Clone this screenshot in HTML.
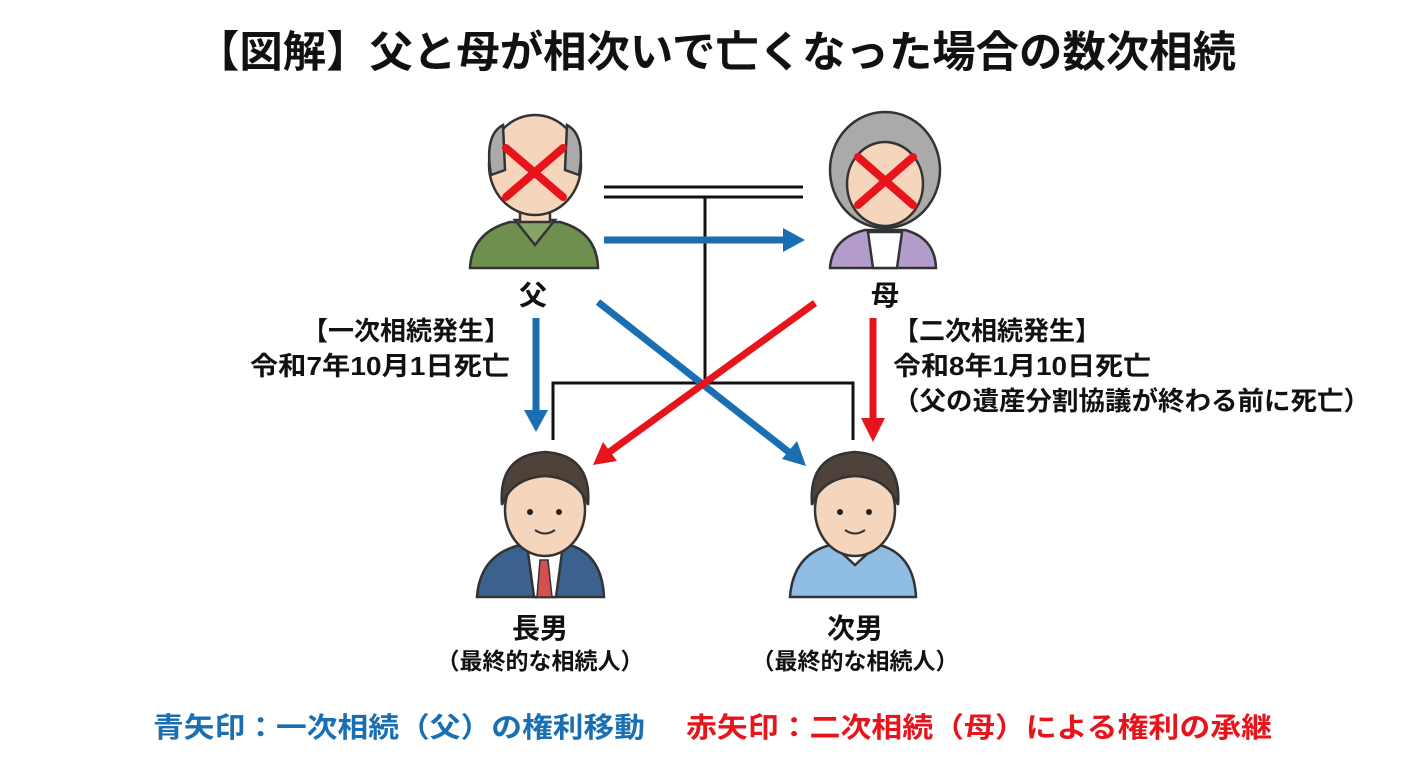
<!DOCTYPE html>
<html><head><meta charset="utf-8"><style>
html,body{margin:0;padding:0;background:#fff}
svg{display:block}
text{font-family:"Liberation Sans","Noto Sans CJK JP",sans-serif;font-weight:bold}
</style></head><body>
<svg width="1408" height="768" viewBox="0 0 1408 768" xmlns="http://www.w3.org/2000/svg">
<rect width="1408" height="768" fill="#fff"/>
<text x="196" y="67" font-size="43" textLength="1040" lengthAdjust="spacingAndGlyphs" fill="#111">【図解】父と母が相次いで亡くなった場合の数次相続</text>

<g stroke="#111" stroke-width="3" fill="none">
<line x1="604" y1="187" x2="803" y2="187"/>
<line x1="604" y1="197" x2="803" y2="197"/>
<line x1="705" y1="197" x2="705" y2="383"/>
<polyline points="553,440 553,383 853,383 853,440"/>
</g>

<!-- Father -->
<g stroke="#333" stroke-width="2.5">
<path d="M470,268 Q472,232 510,222 L560,222 Q597,232 598,268 Z" fill="#6f8f4e"/>
<path d="M515,220 L535,245 L555,220 Z" fill="#84a566"/>
<rect x="520" y="198" width="30" height="24" fill="#f6d5bd"/>
<ellipse cx="535" cy="165" rx="46" ry="50" fill="#f6d5bd"/>
<path d="M491,175 Q484,135 503,125 L505,170 Z M579,175 Q586,135 567,125 L565,170 Z" fill="#aaa"/>
</g>
<g stroke="#e8141c" stroke-width="8" stroke-linecap="round"><line x1="506" y1="148" x2="563" y2="197"/><line x1="563" y1="148" x2="506" y2="197"/></g>

<!-- Mother -->
<g stroke="#333" stroke-width="2.5">
<ellipse cx="885" cy="170" rx="55" ry="58" fill="#aaa"/>
<path d="M830,268 Q832,238 865,230 L905,230 Q935,238 936,268 Z" fill="#b39ccb"/>
<path d="M868,232 L902,232 L897,268 L873,268 Z" fill="#fff"/>
<ellipse cx="885" cy="184" rx="38" ry="42" fill="#f6d5bd"/>
</g>
<g stroke="#e8141c" stroke-width="8" stroke-linecap="round"><line x1="858" y1="157" x2="913" y2="205"/><line x1="913" y1="157" x2="858" y2="205"/></g>

<text x="533" y="305" font-size="28" text-anchor="middle" fill="#111">父</text>
<text x="885" y="305" font-size="28" text-anchor="middle" fill="#111">母</text>

<!-- Sons -->
<g stroke="#333" stroke-width="2.5">
<path d="M477,597 Q480,555 520,545 L570,545 Q602,555 604,597 Z" fill="#3b618f"/>
<path d="M527,545 L563,545 L556,597 L534,597 Z" fill="#fff"/>
<path d="M540,560 L548,560 L552,597 L537,597 Z" fill="#d45050" stroke-width="1.5"/>
<ellipse cx="545" cy="510" rx="40" ry="46" fill="#f6d5bd"/>
<path d="M502,505 Q498,455 545,452 Q592,455 588,505 Q578,478 545,476 Q512,478 502,505 Z" fill="#4e423b"/>
<path d="M790,597 Q793,555 830,545 L880,545 Q914,555 916,597 Z" fill="#8fbde3"/>
<path d="M833,545 L855,565 L877,545 L870,540 L840,540 Z" fill="#fff"/>
<ellipse cx="855" cy="510" rx="40" ry="46" fill="#f6d5bd"/>
<path d="M812,505 Q808,455 855,452 Q902,455 898,505 Q888,478 855,476 Q822,478 812,505 Z" fill="#4e423b"/>
</g>
<g fill="#222"><circle cx="530" cy="512" r="3"/><circle cx="559" cy="512" r="3"/><circle cx="840" cy="512" r="3"/><circle cx="869" cy="512" r="3"/></g>
<g stroke="#333" stroke-width="2" fill="none"><path d="M535,530 Q545,537 555,530"/><path d="M845,530 Q855,537 865,530"/></g>

<g stroke-width="7" fill="none">
<line x1="604" y1="240" x2="785" y2="240" stroke="#1a6fb3"/>
<line x1="536" y1="318" x2="536" y2="412" stroke="#1a6fb3"/>
<line x1="598" y1="302" x2="790" y2="453" stroke="#1a6fb3"/>
<line x1="873" y1="318" x2="873" y2="420" stroke="#e8141c"/>
<line x1="815" y1="303" x2="608" y2="453" stroke="#e8141c"/>
</g>
<polygon points="805,240 783,228 783,252" fill="#1a6fb3"/>
<polygon points="536,432 524,410 548,410" fill="#1a6fb3"/>
<polygon points="806,466 782,459 797,441" fill="#1a6fb3"/>
<polygon points="873,442 861,418 885,418" fill="#e8141c"/>
<polygon points="593,465 603,442 617,461" fill="#e8141c"/>

<text x="540" y="638" font-size="28" text-anchor="middle" fill="#111">長男</text>
<text x="540" y="669" font-size="23" text-anchor="middle" fill="#111" font-weight="normal">（最終的な相続人）</text>
<text x="855" y="638" font-size="28" text-anchor="middle" fill="#111">次男</text>
<text x="855" y="669" font-size="23" text-anchor="middle" fill="#111" font-weight="normal">（最終的な相続人）</text>

<text x="510" y="340" font-size="26" text-anchor="end" fill="#111">【一次相続発生】</text>
<text x="250" y="375" font-size="26" textLength="260" lengthAdjust="spacingAndGlyphs" fill="#111">令和7年10月1日死亡</text>
<text x="893" y="340" font-size="26" fill="#111">【二次相続発生】</text>
<text x="893" y="375" font-size="26" textLength="258" lengthAdjust="spacingAndGlyphs" fill="#111">令和8年1月10日死亡</text>
<text x="893" y="410" font-size="26" textLength="477" lengthAdjust="spacingAndGlyphs" fill="#111">（父の遺産分割協議が終わる前に死亡）</text>

<text x="153" y="737" font-size="28" textLength="492" lengthAdjust="spacingAndGlyphs" fill="#1a6fb3">青矢印：一次相続（父）の権利移動</text>
<text x="686" y="737" font-size="28" textLength="586" lengthAdjust="spacingAndGlyphs" fill="#e8141c">赤矢印：二次相続（母）による権利の承継</text>
</svg>
</body></html>
